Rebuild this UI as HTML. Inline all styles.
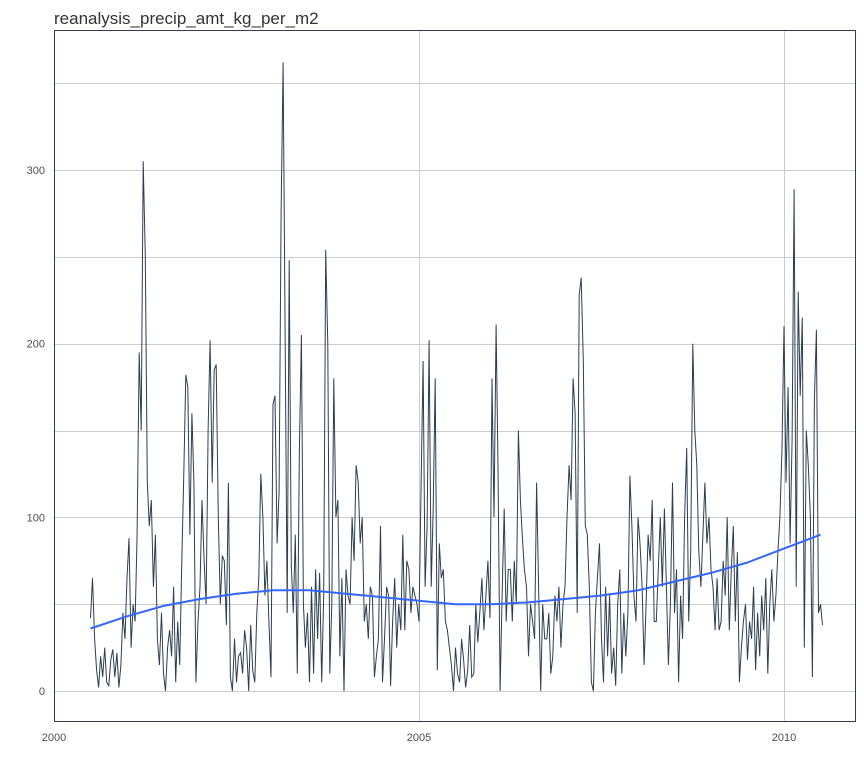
<!DOCTYPE html>
<html><head><meta charset="utf-8"><style>
body{margin:0;background:#fff;font-family:"Liberation Sans",sans-serif}
</style></head><body>
<svg id="chart" width="864" height="768" xmlns="http://www.w3.org/2000/svg">
<rect width="864" height="768" fill="#fff"/>
<text x="54" y="24" font-size="17" fill="#333" font-family="Liberation Sans, sans-serif">reanalysis_precip_amt_kg_per_m2</text>
<g id="grid"></g><g id="series"></g><g id="axes"></g>
<rect x="54.5" y="30.5" width="801" height="691" fill="none" stroke="#2c3e50" stroke-width="1"/>
</svg>
<script>
const startYear = 2000.5;
const stepYear = 1/36;
const precip = [
42,65,30,12,2,20,8,25,5,3,18,24,8,22,2,15,45,30,
65,88,25,50,40,90,195,150,305,250,120,95,110,60,90,30,15,45,
10,0,25,35,20,60,5,40,15,75,125,182,175,90,160,120,5,40,
60,110,75,50,150,202,120,185,188,100,50,78,75,38,120,8,0,30,
5,20,22,10,35,25,0,38,12,5,45,65,125,100,55,75,40,8,
165,170,85,115,275,362,200,45,248,72,45,90,10,140,205,50,25,45,
5,60,10,70,30,68,5,55,254,200,10,50,180,100,110,20,65,0,
70,55,50,100,75,130,120,85,100,40,50,30,60,55,8,20,30,95,
5,30,60,55,3,40,65,25,50,35,90,35,75,70,45,60,55,50,
40,115,190,60,95,202,60,105,180,12,85,65,70,40,35,25,15,0,
25,10,5,30,18,2,12,38,8,10,50,28,45,65,35,55,75,42,
180,100,211,125,0,55,105,40,70,70,40,75,50,150,110,88,70,60,
20,50,40,30,120,60,0,50,30,30,45,10,20,55,40,60,25,50,
60,100,130,110,180,160,45,228,238,190,95,90,60,5,0,45,65,85,
30,5,60,20,55,10,25,3,50,70,10,45,20,45,124,95,55,40,
100,85,60,15,50,90,75,110,40,40,70,100,60,105,60,15,50,120,
45,70,5,55,30,100,140,40,80,200,150,130,80,60,90,120,85,100,
70,60,35,65,35,40,75,55,100,35,70,95,40,80,5,25,40,50,
18,40,30,60,12,45,20,55,35,65,10,50,70,40,55,80,100,140,
210,120,175,85,145,289,60,230,170,215,25,150,130,100,8,168,208,45,50,38
];
const smoothYears = [2000.5,2001,2001.5,2002,2002.5,2003,2003.5,2004,2004.5,2005,2005.5,2006,2006.5,2007,2007.5,2008,2008.5,2009,2009.5,2010,2010.5];
const smoothVals = [36,43,49,53,56,58,58,56,54,52,50,50,51,53,55,58,63,68,74,82,90];
const yTicks = [0,100,200,300];
const yGrid = [0,50,100,150,200,250,300,350];
const xTicks = [2000,2005,2010];

const X = y => 54 + (y-2000)*73;
const Y = v => 691 - v*521/300;
const NS = "http://www.w3.org/2000/svg";
function mk(tag, attrs, parent){const e=document.createElementNS(NS,tag);for(const k in attrs)e.setAttribute(k,attrs[k]);parent.appendChild(e);return e;}
const grid=document.getElementById('grid'), series=document.getElementById('series'), axes=document.getElementById('axes');
yGrid.forEach(v=>{
  const yy=Math.round(Y(v))+0.5;
  const l=mk('line',{x1:54,x2:856,y1:yy,y2:yy,stroke:'#cccccc','stroke-width':1},grid);
  
  
});
xTicks.forEach(t=>{
  const xx=Math.round(X(t))+0.5;
  const l=mk('line',{x1:xx,x2:xx,y1:30,y2:722,stroke:'#cccccc','stroke-width':1},grid);
  
  
  const tx=mk('text',{x:X(t),y:741,'text-anchor':'middle','font-size':11,fill:'#4d4d4d'},axes);
  tx.textContent=t;
  
  
});
yTicks.forEach(v=>{
  const tx=mk('text',{x:45,y:Y(v)+4,'text-anchor':'end','font-size':11,fill:'#4d4d4d'},axes);
  tx.textContent=v;
  
  
});
const pts=precip.map((v,i)=>X(startYear+i*stepYear).toFixed(1)+','+Y(v).toFixed(1)).join(' ');
const line=mk('polyline',{points:pts,fill:'none',stroke:'#2c3e50','stroke-width':1},series);


const sp=smoothYears.map((t,i)=>X(t).toFixed(1)+','+Y(smoothVals[i]).toFixed(1)).join(' ');
const sm=mk('polyline',{points:sp,fill:'none',stroke:'#3366ff','stroke-width':2,'stroke-linejoin':'round'},series);


</script>
</body></html>
